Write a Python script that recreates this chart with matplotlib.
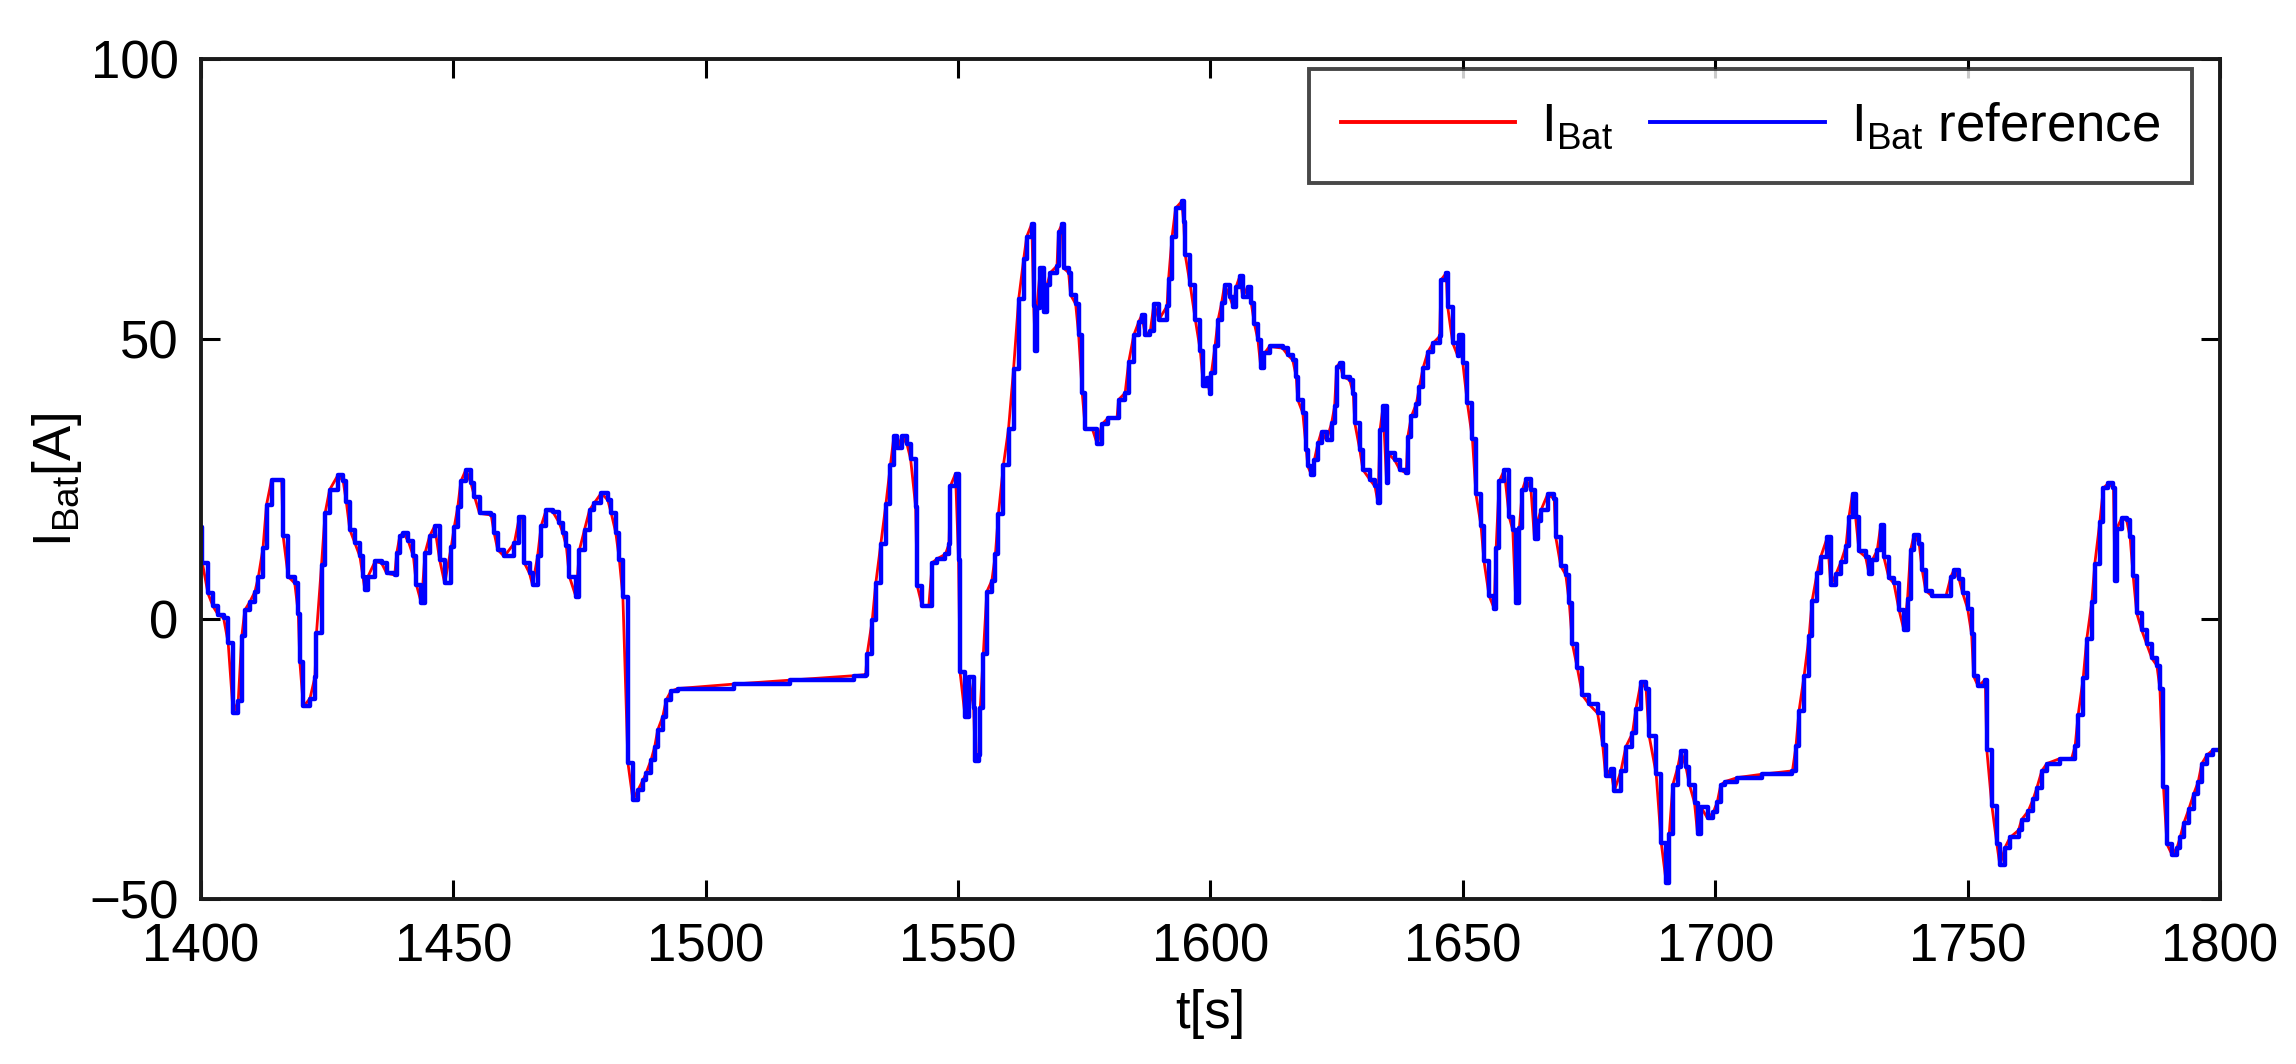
import matplotlib
matplotlib.use("Agg")
import matplotlib.pyplot as plt

plt.rcParams['font.family'] = ['Liberation Sans', 'DejaVu Sans']
plt.rcParams['mathtext.fontset'] = 'custom'
plt.rcParams['mathtext.rm'] = 'Liberation Sans'
plt.rcParams['mathtext.default'] = 'regular'

# time samples [s]
t_s = [
    1400.0, 1400.3, 1401.4, 1402.4, 1403.4, 1404.5, 1405.4, 1406.4, 1407.4, 1408.1,
    1408.7, 1409.7, 1410.7, 1411.4, 1412.3, 1413.0, 1414.0, 1416.0, 1416.3, 1417.3,
    1418.6, 1419.3, 1419.6, 1420.3, 1421.6, 1422.6, 1422.9, 1423.9, 1424.6, 1425.5,
    1427.2, 1428.2, 1428.8, 1429.5, 1430.5, 1431.5, 1432.1, 1432.5, 1433.1, 1434.5,
    1435.8, 1436.8, 1438.4, 1438.8, 1439.4, 1440.1, 1441.1, 1442.1, 1442.7, 1443.7,
    1444.4, 1445.3, 1446.3, 1447.3, 1448.3, 1449.6, 1450.2, 1450.9, 1451.5, 1452.5,
    1453.5, 1454.2, 1455.2, 1457.5, 1458.1, 1458.8, 1460.1, 1462.1, 1463.1, 1463.7,
    1464.1, 1465.1, 1465.7, 1466.7, 1467.4, 1468.4, 1469.7, 1471.0, 1471.7, 1472.4,
    1473.0, 1474.3, 1475.0, 1476.0, 1477.0, 1477.9, 1479.3, 1480.6, 1481.3, 1482.2,
    1482.9, 1483.6, 1484.6, 1485.6, 1486.6, 1487.6, 1488.2, 1489.2, 1489.9, 1490.5,
    1491.5, 1492.2, 1493.1, 1494.5, 1505.6, 1516.8, 1529.4, 1531.7, 1532.0, 1533.0,
    1533.7, 1534.7, 1535.7, 1536.6, 1537.3, 1538.0, 1538.9, 1539.9, 1540.6, 1541.6,
    1541.9, 1542.9, 1544.2, 1544.9, 1545.9, 1547.5, 1548.2, 1548.5, 1549.5, 1550.1,
    1550.4, 1551.4, 1552.1, 1553.1, 1553.4, 1554.1, 1554.4, 1555.0, 1555.7, 1556.7,
    1557.4, 1558.0, 1559.0, 1560.0, 1561.0, 1562.0, 1563.0, 1563.6, 1564.6, 1565.0,
    1565.3, 1565.6, 1566.3, 1567.0, 1567.6, 1568.3, 1569.6, 1569.9, 1570.6, 1570.9,
    1571.9, 1572.3, 1573.3, 1573.9, 1574.6, 1575.2, 1576.6, 1577.6, 1578.5, 1579.8,
    1581.5, 1581.8, 1583.1, 1583.8, 1584.8, 1585.8, 1586.4, 1587.1, 1588.1, 1588.8,
    1589.8, 1591.4, 1591.7, 1592.4, 1593.1, 1594.3, 1594.7, 1595.0, 1596.0, 1597.0,
    1598.0, 1598.6, 1599.3, 1599.9, 1600.2, 1600.9, 1601.5, 1602.2, 1602.8, 1603.8,
    1604.5, 1605.1, 1605.8, 1606.4, 1607.4, 1608.1, 1608.7, 1609.4, 1610.0, 1610.7,
    1611.7, 1614.3, 1615.3, 1616.3, 1617.0, 1617.3, 1618.3, 1619.0, 1619.3, 1620.0,
    1620.6, 1621.3, 1622.0, 1623.0, 1624.0, 1624.6, 1625.0, 1625.6, 1626.3, 1627.6,
    1628.3, 1628.6, 1629.6, 1630.2, 1631.6, 1632.6, 1633.2, 1633.6, 1634.2, 1634.9,
    1635.2, 1636.5, 1637.5, 1638.8, 1639.1, 1639.8, 1640.8, 1641.4, 1642.1, 1643.1,
    1644.1, 1645.4, 1645.7, 1646.7, 1647.0, 1648.0, 1649.0, 1649.3, 1650.0, 1650.9,
    1651.9, 1652.6, 1653.6, 1654.2, 1655.2, 1656.2, 1656.6, 1657.2, 1658.2, 1659.2,
    1659.9, 1660.5, 1661.2, 1661.8, 1662.5, 1663.5, 1664.2, 1664.8, 1665.5, 1666.8,
    1668.1, 1668.4, 1669.4, 1670.4, 1671.1, 1671.7, 1672.7, 1673.7, 1675.0, 1676.7,
    1677.7, 1678.3, 1679.3, 1680.0, 1681.3, 1682.3, 1683.6, 1684.3, 1685.3, 1686.3,
    1686.9, 1688.3, 1689.3, 1690.3, 1690.9, 1691.6, 1692.6, 1693.2, 1694.2, 1694.9,
    1695.9, 1696.5, 1697.2, 1698.5, 1699.6, 1700.4, 1701.1, 1702.0, 1704.4, 1709.3,
    1715.3, 1716.0, 1716.6, 1717.6, 1718.6, 1719.2, 1720.2, 1720.9, 1722.2, 1722.9,
    1723.9, 1724.9, 1725.9, 1726.5, 1727.2, 1727.8, 1728.5, 1729.8, 1730.5, 1731.1,
    1732.1, 1732.8, 1733.4, 1734.4, 1735.4, 1736.4, 1737.4, 1738.1, 1738.7, 1739.4,
    1740.4, 1741.0, 1741.7, 1743.0, 1745.7, 1746.7, 1747.3, 1748.3, 1749.0, 1750.0,
    1750.8, 1751.2, 1752.1, 1753.5, 1753.8, 1754.8, 1755.8, 1756.4, 1757.4, 1758.4,
    1760.1, 1760.7, 1762.0, 1763.0, 1763.7, 1764.7, 1765.7, 1768.3, 1770.6, 1771.3,
    1771.9, 1772.9, 1773.6, 1774.6, 1775.2, 1776.2, 1776.9, 1777.9, 1778.9, 1779.2,
    1779.5, 1780.5, 1781.5, 1782.2, 1782.8, 1783.5, 1784.5, 1785.5, 1786.5, 1787.5,
    1788.1, 1788.8, 1789.5, 1790.5, 1791.5, 1792.1, 1792.8, 1793.8, 1794.8, 1795.7,
    1796.4, 1797.4, 1798.7, 1800.0,
]

# battery current reference [A]
i_ref = [
    16.5, 10.0, 4.6, 2.3, 0.8, 0.2, -4.2, -16.8, -14.6, -3.1,
    1.6, 3.1, 4.9, 7.6, 12.7, 20.4, 24.9, 24.9, 14.8, 7.6,
    6.4, 1.0, -7.6, -15.6, -14.2, -10.3, -2.5, 9.7, 18.9, 23.1,
    25.8, 24.6, 21.0, 16.0, 13.6, 11.2, 7.6, 5.2, 7.6, 10.3,
    10.0, 8.2, 7.9, 11.8, 14.8, 15.4, 13.9, 11.2, 6.1, 2.8,
    11.8, 14.8, 16.6, 10.6, 6.4, 12.9, 16.5, 20.1, 24.6, 26.7,
    24.3, 21.9, 18.9, 18.6, 15.4, 12.4, 11.2, 13.6, 18.3, 18.3,
    10.0, 8.2, 6.1, 11.2, 16.6, 19.5, 19.2, 17.2, 15.4, 13.0,
    7.6, 4.0, 12.4, 16.0, 19.5, 20.7, 22.5, 21.3, 18.9, 15.4,
    10.6, 4.0, -25.7, -32.3, -30.5, -28.7, -27.5, -25.1, -22.8, -19.8,
    -17.4, -14.4, -12.9, -12.4, -11.6, -10.9, -10.1, -9.9, -6.2, -0.2,
    6.4, 13.4, 20.5, 27.5, 32.7, 30.5, 32.7, 31.2, 28.6, 20.1,
    6.0, 2.3, 2.3, 10.1, 10.8, 11.6, 13.4, 23.8, 26.0, 10.5,
    -9.5, -17.4, -10.3, -15.9, -25.4, -24.2, -15.9, -6.3, 4.9, 6.9,
    11.6, 18.8, 27.6, 34.0, 44.7, 57.1, 64.3, 68.3, 70.6, 55.9,
    47.9, 55.5, 62.7, 54.8, 59.6, 61.9, 63.1, 69.1, 70.6, 62.7,
    61.9, 57.9, 56.3, 50.7, 40.4, 34.0, 34.0, 31.2, 34.8, 36.0,
    36.0, 39.2, 40.4, 45.9, 50.7, 53.1, 54.3, 50.7, 51.5, 56.3,
    53.5, 55.9, 60.7, 68.3, 73.4, 74.6, 71.0, 65.1, 59.6, 53.5,
    47.9, 41.6, 43.0, 40.3, 44.0, 48.7, 53.4, 56.4, 59.7, 57.6,
    55.8, 59.4, 61.2, 57.6, 59.4, 56.4, 52.8, 49.9, 44.8, 47.5,
    48.7, 48.4, 47.2, 46.3, 43.3, 39.2, 36.8, 30.2, 27.3, 25.8,
    28.5, 31.4, 33.5, 32.0, 35.0, 38.0, 45.1, 45.7, 43.3, 42.7,
    40.3, 35.0, 30.2, 26.7, 24.9, 23.7, 20.8, 33.8, 38.0, 24.3,
    29.6, 28.4, 26.7, 26.1, 32.6, 36.2, 38.5, 41.5, 44.8, 47.8,
    49.3, 50.5, 60.6, 61.8, 55.8, 49.3, 47.0, 50.8, 45.7, 38.6,
    32.2, 22.3, 16.7, 10.3, 4.2, 1.9, 12.7, 24.6, 26.6, 18.2,
    15.9, 2.8, 16.3, 23.1, 25.0, 23.1, 14.3, 17.5, 19.5, 22.3,
    21.5, 14.7, 9.5, 7.9, 2.8, -4.4, -8.8, -13.6, -15.2, -16.8,
    -22.4, -28.0, -26.8, -30.7, -27.2, -22.8, -20.4, -16.0, -11.2, -12.4,
    -20.8, -27.6, -39.9, -47.1, -38.3, -29.6, -26.4, -23.6, -26.4, -29.6,
    -32.8, -38.3, -33.6, -35.6, -34.5, -32.7, -29.6, -29.0, -28.3, -27.7,
    -27.1, -22.7, -16.4, -10.2, -3.0, 3.3, 8.3, 11.1, 14.6, 6.1,
    8.0, 10.2, 13.0, 18.3, 22.4, 18.3, 12.1, 11.1, 8.0, 10.5,
    12.3, 16.8, 11.1, 7.4, 6.4, 1.7, -2.0, 3.6, 12.3, 15.1,
    13.5, 8.8, 5.1, 4.1, 4.1, 7.6, 8.8, 7.2, 4.7, 1.9,
    -2.7, -10.2, -12.0, -10.8, -23.3, -33.3, -40.2, -44.0, -40.8, -39.0,
    -37.7, -35.8, -34.3, -32.1, -30.2, -27.1, -25.8, -24.9, -24.9, -22.7,
    -17.1, -10.5, -3.6, 3.0, 9.9, 17.4, 23.4, 24.3, 23.4, 6.8,
    16.1, 18.0, 17.7, 14.6, 7.7, 1.1, -2.0, -4.5, -7.0, -8.3,
    -12.4, -29.9, -40.2, -42.1, -40.8, -39.0, -36.5, -34.0, -31.2, -29.0,
    -25.8, -24.3, -23.3, -23.3,
]

# measured battery current tracks the reference almost exactly
i_bat = list(i_ref)

x_ticks = [1400, 1450, 1500, 1550, 1600, 1650, 1700, 1750, 1800]
y_ticks = [-50, 0, 50, 100]

fig = plt.figure(figsize=(22.96, 10.64), dpi=100)
ax = fig.add_axes([0.0875, 0.155, 0.8794, 0.7893])

# measured current underneath, reference on top as a held signal
ax.plot(t_s, i_bat, color='#ff0000', lw=2.0, label=r'$I_{Bat}$')
ax.plot(t_s, i_ref, color='#0000ff', lw=3.2, drawstyle='steps-post',
        label=r'$I_{Bat}$ reference')

ax.set_xlim(1400, 1800)
ax.set_ylim(-50, 100)
ax.set_xticks(x_ticks)
ax.set_yticks(y_ticks)

ax.tick_params(direction='in', length=14, width=2.2, top=True, right=True,
               labelsize=38, colors='black')
ax.tick_params(axis='x', pad=17)
ax.tick_params(axis='y', pad=16)
for sp in ax.spines.values():
    sp.set_linewidth(2.8)
    sp.set_color('#1a1a1a')

ax.set_xlabel('t[s]', fontsize=38, labelpad=12)
ax.set_ylabel(r'$I_{Bat}$[A]', fontsize=38, labelpad=4)

leg = ax.legend(loc='upper right', bbox_to_anchor=(0.986, 0.988), ncol=2,
                fontsize=38, frameon=True, fancybox=False, borderaxespad=0,
                handlelength=3.3, handletextpad=0.5, columnspacing=0.7,
                borderpad=0.6)
leg.get_frame().set_edgecolor('#1a1a1a')
leg.get_frame().set_linewidth(2.8)
for line in leg.get_lines():
    line.set_linewidth(2.8)
    line.set_drawstyle('default')

fig.savefig('out.png', dpi=100)
